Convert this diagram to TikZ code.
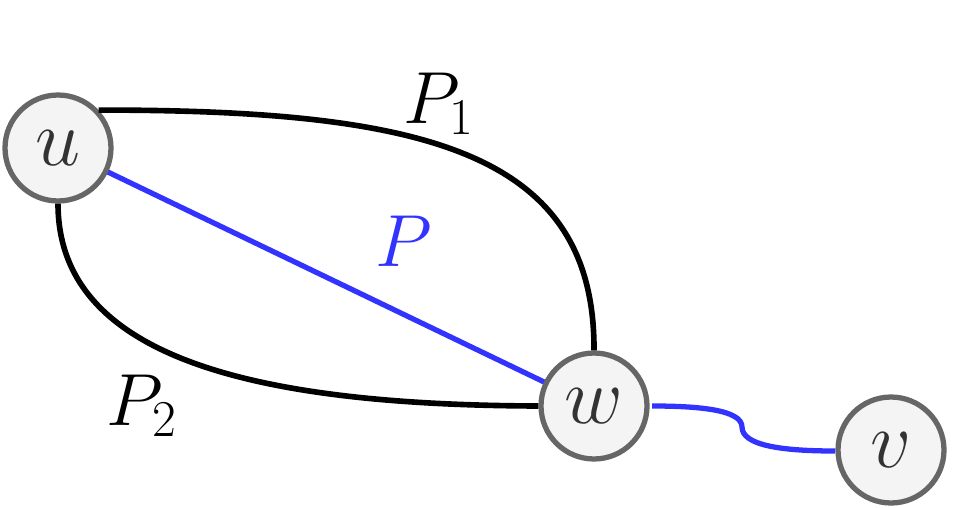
\RequirePackage{fix-cm}
\documentclass[tikz,border=0pt]{standalone}
\usepackage{amsmath}
\usepackage{tikz}
\usetikzlibrary{positioning,calc}

\definecolor{nodegray}{HTML}{666666}
\definecolor{nodefill}{HTML}{F4F4F4}
\definecolor{pathblue}{HTML}{3333FF}

\begin{document}
\begin{tikzpicture}[
    x=0.02cm, y=-0.02cm,
    vertex/.style={circle, draw=nodegray, line width=3pt, fill=nodefill, minimum size=2.12cm, inner sep=0pt, text=black!80, font=\fontsize{46}{52}\selectfont},
    walk/.style={draw, line width=3.2pt, color=black},
    bluewalk/.style={draw, line width=3pt, color=pathblue},
    plabel/.style={anchor=base west, inner sep=0pt, font=\fontsize{42}{48}\selectfont}
]
\useasboundingbox (0,0) rectangle (972,507);

% Paths (drawn first, nodes cover the ends)
\draw[bluewalk] (58,148) -- (594,406);
\draw[bluewalk] (652,406) .. controls (700,406) and (742,410) .. (742,427)
    .. controls (742,445) and (780,451) .. (835,451);

% Define node positions
\node[vertex] (u) at (58,148) {$u$};
\node[vertex] (w) at (594,406) {$w$};
\node[vertex] (v) at (891,450) {$v$};

% Two other u-w paths
\draw[walk] (u.43) .. controls (420,110) and (595,150) .. (w.north);
\draw[walk] (u.south) .. controls (58,360) and (260,405) .. (w.west);

% Path labels
\node[plabel] (p1) at (403,123) {$P_1$};
\node[plabel] (p2) at (106,425) {$P_2$};
\node[plabel, text=pathblue] (p) at (375,266) {$P$};

\end{tikzpicture}
\end{document}
